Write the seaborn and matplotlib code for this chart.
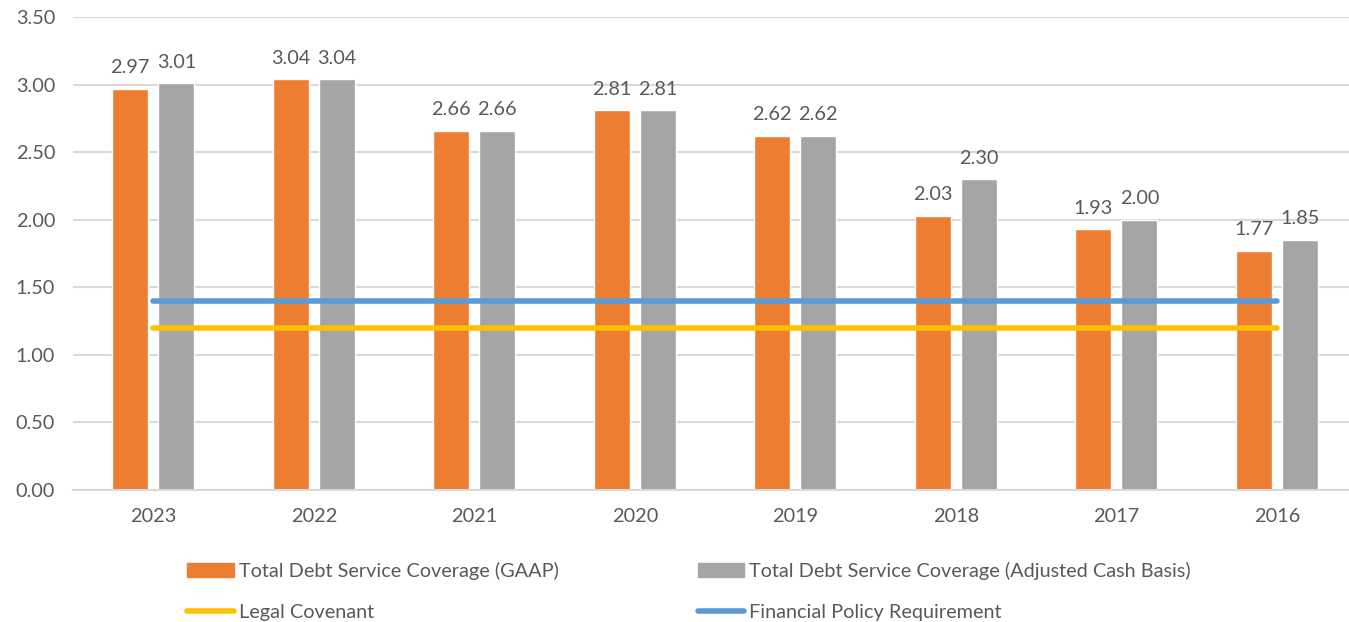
import matplotlib
matplotlib.use("Agg")
import matplotlib.pyplot as plt
from matplotlib.patches import Patch
from matplotlib.lines import Line2D
import seaborn as sns
import pandas as pd
import numpy as np

years = ["2023", "2022", "2021", "2020", "2019", "2018", "2017", "2016"]
gaap = [2.97, 3.04, 2.66, 2.81, 2.62, 2.03, 1.93, 1.77]
adjusted_cash = [3.01, 3.04, 2.66, 2.81, 2.62, 2.30, 2.00, 1.85]
legal_covenant = [1.20] * len(years)
policy_requirement = [1.40] * len(years)

series_names = [
    "Total Debt Service Coverage (GAAP)",
    "Total Debt Service Coverage (Adjusted Cash Basis)",
]
orange = "#ED7D31"
gray = "#A5A5A5"
yellow = "#FFC000"
blue = "#5B9BD5"
text_color = "#595959"
grid_color = "#D9D9D9"
fs = 14.3

df = pd.DataFrame({
    "Year": years * 2,
    "Coverage": gaap + adjusted_cash,
    "Series": [series_names[0]] * len(years) + [series_names[1]] * len(years),
})

sns.set_style("white")
plt.rcParams["font.family"] = ["Lato", "DejaVu Sans"]

W, H = 1349, 622
fig = plt.figure(figsize=(W / 100, H / 100), dpi=100)
ax = fig.add_axes([73 / W, 132 / H, 1284 / W, (490 - 17) / H])

sns.barplot(
    data=df, x="Year", y="Coverage", hue="Series",
    palette=[orange, gray], width=0.574, gap=0.22,
    order=years, hue_order=series_names, legend=False, ax=ax,
    saturation=1, errorbar=None,
)

for container in ax.containers:
    ax.bar_label(container, fmt="%.2f", padding=9, fontsize=fs, color=text_color)

xpos = np.arange(len(years))
ax.plot(xpos, policy_requirement, color=blue, lw=4, solid_capstyle="round", zorder=3)
ax.plot(xpos, legal_covenant, color=yellow, lw=4, solid_capstyle="round", zorder=3)

ax.set_xlim(-0.5, len(years) - 0.5)
ax.set_ylim(0, 3.5)
yt = np.arange(0, 3.51, 0.5)
ax.set_yticks(yt)
ax.set_yticklabels([f"{v:.2f}" for v in yt])
ax.yaxis.grid(True, color=grid_color, lw=1.5)
ax.set_axisbelow(True)
ax.set_xlabel("")
ax.set_ylabel("")
for side in ["left", "right", "top"]:
    ax.spines[side].set_visible(False)
ax.spines["bottom"].set_color(grid_color)
ax.spines["bottom"].set_linewidth(1.5)
ax.tick_params(axis="both", length=0, labelsize=fs, colors=text_color)
ax.tick_params(axis="y", pad=13)
ax.tick_params(axis="x", pad=13)

handles = [
    Patch(facecolor=orange, edgecolor=orange),
    Line2D([0], [0], color=yellow, lw=4, solid_capstyle="round"),
    Patch(facecolor=gray, edgecolor=gray),
    Line2D([0], [0], color=blue, lw=4, solid_capstyle="round"),
]
labels = [series_names[0], "Legal Covenant", series_names[1], "Financial Policy Requirement"]
fig.legend(
    handles, labels, ncol=2, loc="upper left",
    bbox_to_anchor=(187 / W, 1 - 562 / H),
    frameon=False, fontsize=fs, labelcolor=text_color,
    handlelength=2.35, handleheight=0.65, handletextpad=0.25,
    columnspacing=7.0, labelspacing=1.2, borderpad=0, borderaxespad=0,
)

fig.savefig("out.png", dpi=100)
